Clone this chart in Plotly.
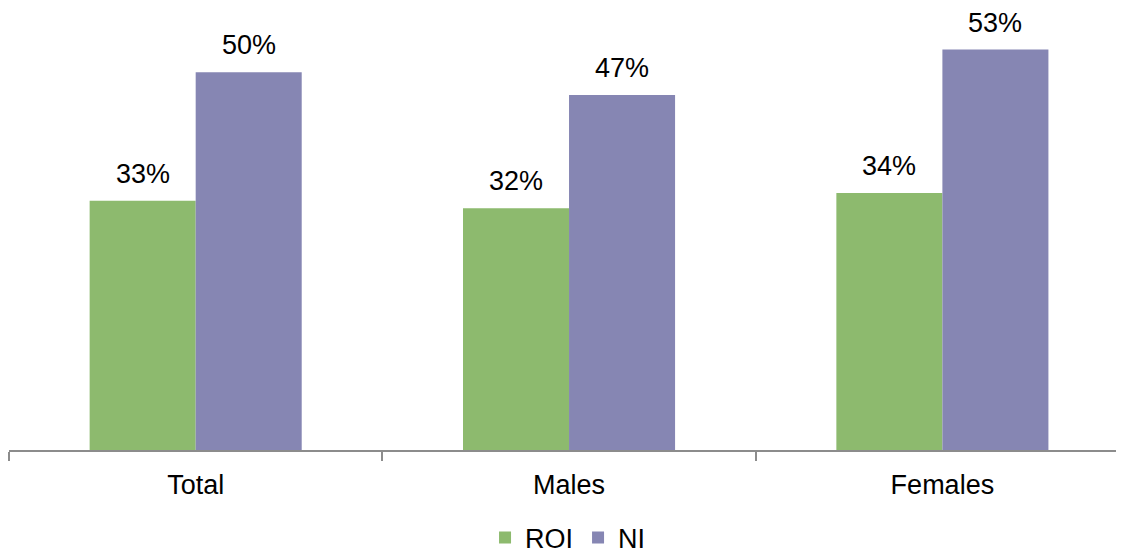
import plotly.graph_objects as go

categories = ["Total", "Males", "Females"]
roi_values = [33, 32, 34]
ni_values = [50, 47, 53]
roi_labels = ["33%", "32%", "34%"]
ni_labels = ["50%", "47%", "53%"]

GREEN = "#8DBA6E"
PURPLE = "#8686B3"
FONT = "Liberation Sans, Arial, sans-serif"

fig = go.Figure()
fig.add_trace(go.Bar(name="ROI", x=categories, y=roi_values, marker=dict(color=GREEN, line=dict(width=0))))
fig.add_trace(go.Bar(name="NI", x=categories, y=ni_values, marker=dict(color=PURPLE, line=dict(width=0))))

annotations = []
for cat, v, t in zip(categories, roi_values, roi_labels):
    annotations.append(dict(x=cat, y=v, text=t, showarrow=False, xshift=-53, yshift=27,
                            yanchor="middle", font=dict(size=27, color="#000", family=FONT)))
for cat, v, t in zip(categories, ni_values, ni_labels):
    annotations.append(dict(x=cat, y=v, text=t, showarrow=False, xshift=53, yshift=27,
                            yanchor="middle", font=dict(size=27, color="#000", family=FONT)))

fig.update_layout(
    width=1108, height=545,
    margin=dict(l=1, r=0, t=0, b=103, autoexpand=False),
    paper_bgcolor="white", plot_bgcolor="white",
    barmode="group", bargap=0.432, bargroupgap=0,
    font=dict(family=FONT, size=27, color="#000"),
    showlegend=True,
    legend=dict(orientation="h", x=0.505, xanchor="center", y=-0.199, yanchor="middle",
                font=dict(size=27, family=FONT), traceorder="normal", bgcolor="rgba(0,0,0,0)"),
    annotations=annotations,
    xaxis=dict(type="category", range=[-0.5, 2.465], showline=True, linecolor="#8C8C8C", linewidth=1.5,
               ticks="outside", tickson="boundaries", ticklen=9, tickcolor="#8C8C8C", tickwidth=1.5,
               ticklabelstandoff=10, automargin=False,
               showgrid=False, zeroline=False, tickfont=dict(size=27, family=FONT, color="#000")),
    yaxis=dict(range=[0, 58.5], visible=False, showgrid=False, zeroline=False),
)

fig.write_html("out.html")
